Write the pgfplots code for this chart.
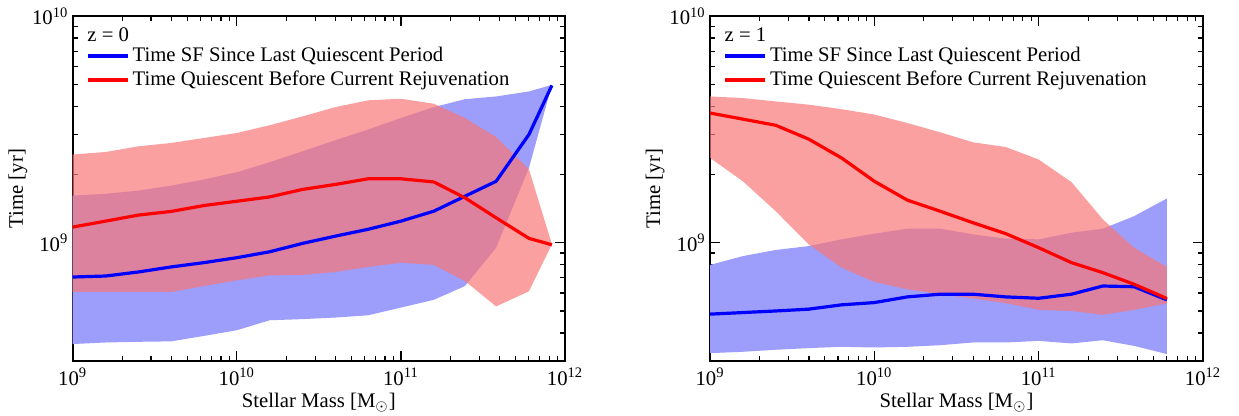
\documentclass[border=0pt]{standalone}
\usepackage{fontspec}
\setmainfont{Liberation Serif}
\usepackage{pgfplots}
\pgfplotsset{compat=1.18}

\definecolor{bandblue}{RGB}{157,157,252}
\definecolor{bandred}{RGB}{248,119,119}
\definecolor{lineblue}{RGB}{0,0,255}
\definecolor{linered}{RGB}{255,0,0}
\newcommand{\myfs}{\fontsize{10.4}{12}\selectfont}

\pgfplotsset{
  every axis/.append style={
    xmode=log, ymode=log,
    scale only axis,
    height=172.65bp,
    xmin=1e9, xmax=1e12, ymin=3e8, ymax=1e10,
    xtick={1e9,1e10,1e11,1e12},
    xticklabels={10\textsuperscript{9},10\textsuperscript{10},10\textsuperscript{11},10\textsuperscript{12}},
    ytick={1e9,1e10},
    yticklabels={10\textsuperscript{9},10\textsuperscript{10}},
    minor xtick={2e9,3e9,4e9,5e9,6e9,7e9,8e9,9e9,2e10,3e10,4e10,5e10,6e10,7e10,8e10,9e10,2e11,3e11,4e11,5e11,6e11,7e11,8e11,9e11},
    minor ytick={4e8,5e8,6e8,7e8,8e8,9e8,2e9,3e9,4e9,5e9,6e9,7e9,8e9,9e9},
    tick align=inside,
    major tick length=5bp, minor tick length=2.5bp,
    tick style={black, line width=0.6bp},
    axis line style={line width=1bp},
    tick label style={font=\myfs},
    yticklabel style={inner xsep=2bp},
    xlabel={Stellar Mass [M$_\odot$]},
    ylabel={Time [yr]},
    x label style={font=\myfs, at={(axis description cs:0.5,-0.1352)}, anchor=base},
    y label style={font=\myfs, at={(axis description cs:-0.1115,0.5)}, anchor=center},
    legend style={at={(0.015,0.926)}, anchor=north west, draw=none, fill=none,
      font=\myfs, row sep=2bp,
      nodes={inner xsep=1.5bp, inner ysep=0pt, text height=8bp, text depth=2bp}},
    legend cell align=left,
  },
  legend image code/.code={\draw[#1] (0bp,0bp) -- (20bp,0bp);},
  myband/.style={draw=none, forget plot},
  myline/.style={line width=1.6bp, line join=round, no marks},
}

\begin{document}
\begin{tikzpicture}
\path[use as bounding box] (0,0) rectangle (619.5bp,208bp);

% ---------------- z = 0 ----------------
\begin{axis}[width=246.15bp, at={(36.35bp,27.35bp)}, anchor=south west]
\addplot[myband, fill=bandblue] coordinates {
(1e9,1.614e9) (1.585e9,1.644e9) (2.512e9,1.698e9) (3.981e9,1.786e9) (6.310e9,1.901e9)
(1e10,2.046e9) (1.585e10,2.265e9) (2.512e10,2.529e9) (3.981e10,2.831e9) (6.310e10,3.155e9)
(1e11,3.548e9) (1.585e11,3.963e9) (2.455e11,4.295e9) (3.802e11,4.416e9) (6.026e11,4.645e9)
(8.318e11,4.966e9)
(6.026e11,2.138e9) (3.802e11,9.506e8) (2.455e11,6.442e8) (1.585e11,5.598e8) (1e11,5.176e8)
(6.310e10,4.786e8) (3.981e10,4.677e8) (2.512e10,4.603e8) (1.585e10,4.550e8) (1e10,4.111e8)
(6.310e9,3.882e8) (3.981e9,3.673e8) (2.512e9,3.656e8) (1.585e9,3.631e8) (1e9,3.573e8)
};
\addplot[myband, fill=bandred, fill opacity=0.7] coordinates {
(1e9,2.449e9) (1.585e9,2.512e9) (2.512e9,2.661e9) (3.981e9,2.754e9) (6.310e9,2.897e9)
(1e10,3.048e9) (1.585e10,3.296e9) (2.512e10,3.606e9) (3.981e10,3.963e9) (6.310e10,4.246e9)
(1e11,4.315e9) (1.585e11,4.102e9) (2.455e11,3.548e9) (3.802e11,2.924e9) (6.026e11,2.109e9)
(8.318e11,9.840e8)
(6.026e11,6.109e8) (3.802e11,5.236e8) (2.455e11,6.776e8) (1.585e11,7.980e8) (1e11,8.166e8)
(6.310e10,7.816e8) (3.981e10,7.430e8) (2.512e10,7.211e8) (1.585e10,7.178e8) (1e10,6.823e8)
(6.310e9,6.442e8) (3.981e9,6.067e8) (2.512e9,6.067e8) (1.585e9,6.067e8) (1e9,6.067e8)
};
\addplot[myline, lineblue] coordinates {
(1e9,7.06e8) (1.585e9,7.13e8) (2.512e9,7.43e8) (3.981e9,7.82e8) (6.310e9,8.17e8)
(1e10,8.59e8) (1.585e10,9.12e8) (2.512e10,9.93e8) (3.981e10,1.069e9) (6.310e10,1.146e9)
(1e11,1.245e9) (1.585e11,1.377e9) (2.455e11,1.603e9) (3.802e11,1.866e9) (6.026e11,3.00e9)
(8.318e11,4.94e9)
};
\addlegendentry{Time SF Since Last Quiescent Period}
\addplot[myline, linered] coordinates {
(1e9,1.172e9) (1.585e9,1.245e9) (2.512e9,1.324e9) (3.981e9,1.374e9) (6.310e9,1.459e9)
(1e10,1.524e9) (1.585e10,1.592e9) (2.512e10,1.718e9) (3.981e10,1.807e9) (6.310e10,1.914e9)
(1e11,1.914e9) (1.585e11,1.854e9) (2.455e11,1.578e9) (3.802e11,1.288e9) (6.026e11,1.045e9)
(8.318e11,0.979e9)
};
\addlegendentry{Time Quiescent Before Current Rejuvenation}
\node[anchor=base west, inner sep=0pt, font=\myfs] at (axis description cs:0.029,0.9256) {z = 0};
\end{axis}

% ---------------- z = 1 ----------------
\begin{axis}[width=246.5bp, at={(355bp,27.35bp)}, anchor=south west]
\addplot[myband, fill=bandblue] coordinates {
(1e9,7.980e8) (1.585e9,8.730e8) (2.512e9,9.290e8) (3.981e9,9.661e8) (6.310e9,1.035e9)
(1e10,1.096e9) (1.585e10,1.153e9) (2.512e10,1.153e9) (3.981e10,1.089e9) (6.310e10,1.042e9)
(1e11,1.035e9) (1.585e11,1.107e9) (2.455e11,1.153e9) (3.802e11,1.309e9) (6.026e11,1.567e9)
(6.026e11,3.228e8) (3.802e11,3.508e8) (2.455e11,3.715e8) (1.585e11,3.597e8) (1e11,3.690e8)
(6.310e10,3.631e8) (3.981e10,3.631e8) (2.512e10,3.532e8) (1.585e10,3.475e8) (1e10,3.451e8)
(6.310e9,3.475e8) (3.981e9,3.428e8) (2.512e9,3.373e8) (1.585e9,3.304e8) (1e9,3.258e8)
};
\addplot[myband, fill=bandred, fill opacity=0.7] coordinates {
(1e9,4.416e9) (1.585e9,4.345e9) (2.512e9,4.198e9) (3.981e9,4.064e9) (6.310e9,3.882e9)
(1e10,3.673e9) (1.585e10,3.373e9) (2.512e10,3.069e9) (3.981e10,2.773e9) (6.310e10,2.642e9)
(1e11,2.328e9) (1.585e11,1.849e9) (2.455e11,1.268e9) (3.802e11,9.506e8) (6.026e11,7.816e8)
(6.026e11,5.395e8) (3.802e11,5.058e8) (2.455e11,4.808e8) (1.585e11,5.000e8) (1e11,5.058e8)
(6.310e10,5.408e8) (3.981e10,5.675e8) (2.512e10,5.929e8) (1.585e10,6.237e8) (1e10,6.714e8)
(6.310e9,7.762e8) (3.981e9,9.840e8) (2.512e9,1.377e9) (1.585e9,1.866e9) (1e9,2.366e9)
};
\addplot[myline, lineblue] coordinates {
(1e9,4.842e8) (1.585e9,4.920e8) (2.512e9,5.000e8) (3.981e9,5.093e8) (6.310e9,5.321e8)
(1e10,5.445e8) (1.585e10,5.768e8) (2.512e10,5.929e8) (3.981e10,5.929e8) (6.310e10,5.768e8)
(1e11,5.689e8) (1.585e11,5.929e8) (2.455e11,6.442e8) (3.802e11,6.397e8) (6.026e11,5.598e8)
};
\addlegendentry{Time SF Since Last Quiescent Period}
\addplot[myline, linered] coordinates {
(1e9,3.733e9) (1.585e9,3.508e9) (2.512e9,3.296e9) (3.981e9,2.864e9) (6.310e9,2.366e9)
(1e10,1.866e9) (1.585e10,1.542e9) (2.512e10,1.377e9) (3.981e10,1.225e9) (6.310e10,1.096e9)
(1e11,9.506e8) (1.585e11,8.166e8) (2.455e11,7.379e8) (3.802e11,6.561e8) (6.026e11,5.675e8)
};
\addlegendentry{Time Quiescent Before Current Rejuvenation}
\node[anchor=base west, inner sep=0pt, font=\myfs] at (axis description cs:0.029,0.9256) {z = 1};
\end{axis}
\end{tikzpicture}
\end{document}
